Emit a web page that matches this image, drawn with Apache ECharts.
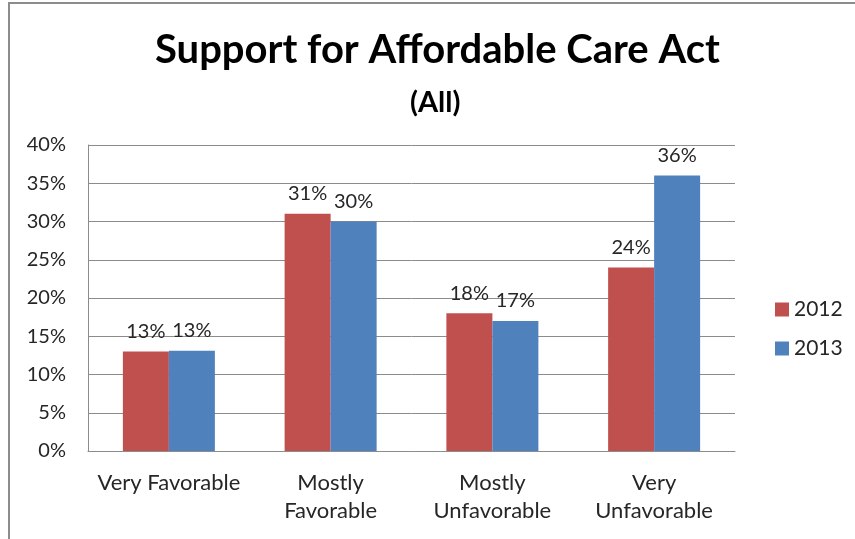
<!DOCTYPE html>
<html>
<head>
<meta charset="utf-8">
<script src="https://cdn.jsdelivr.net/npm/echarts@6/dist/echarts.min.js"></script>
<style>html,body{margin:0;padding:0;background:#fff;}#c{width:855px;height:539px;}</style>
</head>
<body>
<div id="c"></div>
<script>
const categories = ['Very Favorable', 'Mostly\nFavorable', 'Mostly\nUnfavorable', 'Very\nUnfavorable'];
const values2012 = [13, 31, 18, 24];
const values2013 = [13.1, 30, 17, 36];
const seriesNames = ['2012', '2013'];
const yTicks = [0, 5, 10, 15, 20, 25, 30, 35, 40];

const FONT = 'Lato';
const chart = echarts.init(document.getElementById('c'));
const labelCfg = {
  show: true, position: 'top', distance: 10,
  formatter: p => Math.round(p.value) + '%',
  fontFamily: FONT, fontSize: 20, color: '#262626'
};
chart.setOption({
  animation: false,
  backgroundColor: '#fff',
  title: [
    { text: 'Support for Affordable Care Act', left: 150, top: 25,
      textStyle: { fontFamily: FONT, fontWeight: 'bold', fontSize: 40, color: '#000' } },
    { text: '(All)', left: 405, top: 83,
      textStyle: { fontFamily: FONT, fontWeight: 'bold', fontSize: 29, color: '#000' } }
  ],
  graphic: [{ type: 'rect', shape: { x: 9, y: 3, width: 900, height: 600 },
    style: { fill: 'none', stroke: '#8c8c8c', lineWidth: 2 }, z: 100 }],
  legend: {
    orient: 'vertical', left: 770, top: 294, itemGap: 18,
    itemWidth: 14, itemHeight: 14, icon: 'rect',
    textStyle: { fontFamily: FONT, fontSize: 21, color: '#262626' },
    data: seriesNames
  },
  grid: { left: 88, right: 120, top: 145, bottom: 88 },
  xAxis: {
    type: 'category', data: categories,
    axisLine: { lineStyle: { color: '#8c8c8c' } },
    axisTick: { show: false },
    axisLabel: { fontFamily: FONT, fontSize: 22, color: '#262626', margin: 18, lineHeight: 28, interval: 0 }
  },
  yAxis: {
    type: 'value', min: 0, max: 40, interval: 5,
    axisLine: { show: true, lineStyle: { color: '#8c8c8c' } },
    axisTick: { show: false },
    splitLine: { lineStyle: { color: '#8c8c8c' } },
    axisLabel: { fontFamily: FONT, fontSize: 20, color: '#262626', margin: 22,
      formatter: v => yTicks.includes(v) ? v + '%' : '' }
  },
  series: [
    { name: seriesNames[0], type: 'bar', data: values2012, barWidth: 46, barGap: '0%',
      itemStyle: { color: '#C0504D' }, label: labelCfg },
    { name: seriesNames[1], type: 'bar', data: values2013, barWidth: 46, barGap: '0%',
      itemStyle: { color: '#4F81BD' }, label: labelCfg }
  ]
});
</script>
</body>
</html>
